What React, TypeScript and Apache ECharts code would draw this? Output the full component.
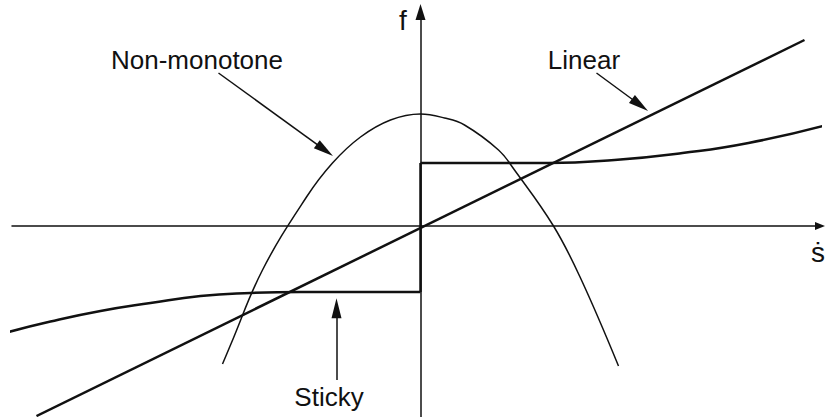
import React, { useEffect, useRef } from "react";
import * as echarts from "echarts";

// Friction characteristics: force f against sliding velocity ṡ
const linearS = [-1.92, 1.92];
const linearF = [-1.9, 1.86];

const nonMonoS = [-0.99, -0.95, -0.79, -0.57, -0.44, -0.3, -0.15, 0, 0.12, 0.22, 0.39, 0.47, 0.665, 0.8, 0.99];
const nonMonoF = [-1.38, -1.19, -0.44, 0.29, 0.63, 0.89, 1.06, 1.12, 1.08, 1.01, 0.76, 0.56, 0.0, -0.52, -1.4];

const stickyNegS = [-2.06, -1.85, -1.6, -1.35, -1.1, -0.85, -0.6, 0];
const stickyNegF = [-1.06, -0.955, -0.85, -0.77, -0.7, -0.67, -0.66, -0.66];
const stickyJumpS = [0, 0];
const stickyJumpF = [-0.66, 0.63];
const stickyPosS = [0, 0.64, 0.97, 1.31, 1.64, 2.03];
const stickyPosF = [0.63, 0.63, 0.66, 0.73, 0.83, 1.01];

// Annotation arrows (tail, head) in data units
const nonMonoArrow = [[-1.01, 1.53], [-0.478, 0.759]];
const linearArrow = [[0.88, 1.53], [1.0975, 1.21]];
const stickyArrow = [[-0.42, -1.54], [-0.42, -0.823]];

const labels = ["Non-monotone", "Linear", "Sticky"];

const zip = (xs: number[], ys: number[]) => xs.map((x, i) => [x, ys[i]]);

const INK = "#111";
const FONT = "Liberation Sans, Arial, sans-serif";

function arrowMark(pair: number[][]) {
  return {
    silent: true,
    symbol: ["none", "triangle"],
    symbolSize: 20,
    label: { show: false },
    lineStyle: { color: INK, width: 1.5, type: "solid" },
    itemStyle: { color: "#333" },
    emphasis: { disabled: true },
    animation: false,
    data: [[{ coord: pair[0] }, { coord: pair[1], symbolSize: [10, 20] }]],
  };
}

export default function App() {
  const ref = useRef<HTMLDivElement>(null);

  useEffect(() => {
    if (!ref.current) return;
    const chart = echarts.init(ref.current, null, { renderer: "svg" });

    const lineBase = {
      type: "line",
      showSymbol: false,
      clip: false,
      silent: true,
      emphasis: { disabled: true },
    };

    chart.setOption({
      animation: false,
      backgroundColor: "#fff",
      grid: { left: 12, right: 7, top: 12, bottom: 0 },
      xAxis: {
        type: "value",
        min: -2.0425,
        max: 1.9975,
        axisLine: {
          onZero: true,
          symbol: ["none", "triangle"],
          symbolSize: [8, 10],
          lineStyle: { color: INK, width: 1.5 },
        },
        axisTick: { show: false },
        axisLabel: { show: false },
        splitLine: { show: false },
      },
      yAxis: {
        type: "value",
        min: -1.91,
        max: 2.14,
        axisLine: {
          onZero: true,
          symbol: ["none", "triangle"],
          symbolSize: [10, 16],
          lineStyle: { color: INK, width: 1.5 },
        },
        axisTick: { show: false },
        axisLabel: { show: false },
        splitLine: { show: false },
      },
      series: [
        {
          ...lineBase,
          name: "Linear",
          data: zip(linearS, linearF),
          lineStyle: { color: INK, width: 2.5 },
          markLine: arrowMark(linearArrow),
        },
        {
          ...lineBase,
          name: "Non-monotone",
          data: zip(nonMonoS, nonMonoF),
          smooth: 0.4,
          lineStyle: { color: INK, width: 1.5 },
          markLine: arrowMark(nonMonoArrow),
        },
        {
          ...lineBase,
          name: "Sticky",
          data: zip(stickyNegS, stickyNegF),
          smooth: 0.5,
          lineStyle: { color: INK, width: 2.5 },
          markLine: arrowMark(stickyArrow),
        },
        {
          ...lineBase,
          name: "Sticky step",
          data: zip(stickyJumpS, stickyJumpF),
          lineStyle: { color: INK, width: 2.5 },
        },
        {
          ...lineBase,
          name: "Sticky positive",
          data: zip(stickyPosS, stickyPosF),
          smooth: 0.5,
          lineStyle: { color: INK, width: 2.5 },
        },
      ],
      graphic: [
        {
          type: "text",
          x: 197,
          y: 60,
          style: { text: labels[0], font: `26px ${FONT}`, fill: INK, align: "center", verticalAlign: "middle" },
        },
        {
          type: "text",
          x: 584,
          y: 60,
          style: { text: labels[1], font: `26px ${FONT}`, fill: INK, align: "center", verticalAlign: "middle" },
        },
        {
          type: "text",
          x: 329,
          y: 397,
          style: { text: labels[2], font: `26px ${FONT}`, fill: INK, align: "center", verticalAlign: "middle" },
        },
        {
          type: "text",
          x: 403,
          y: 20,
          style: { text: "f", font: `28px ${FONT}`, fill: INK, align: "center", verticalAlign: "middle" },
        },
        {
          type: "text",
          x: 818,
          y: 252,
          style: { text: "ṡ", font: `28px ${FONT}`, fill: INK, align: "center", verticalAlign: "middle" },
        },
      ],
    });

    return () => chart.dispose();
  }, []);

  return (
    <div
      ref={ref}
      style={{ position: "fixed", left: 0, top: 0, width: 827, height: 417, background: "#fff" }}
    />
  );
}
